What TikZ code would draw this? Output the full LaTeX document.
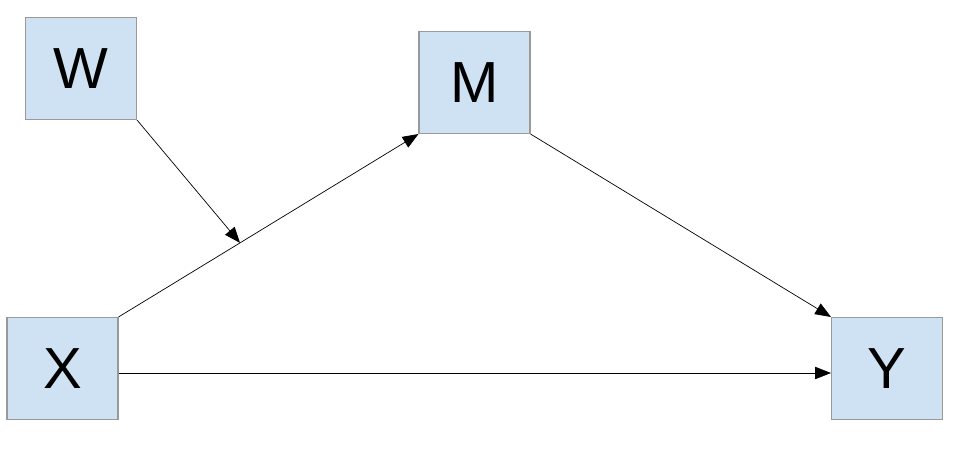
\documentclass[tikz,border=0pt]{standalone}
\usepackage{fontspec}
\setmainfont{Liberation Sans}
\usetikzlibrary{arrows.meta,positioning}
\definecolor{boxblue}{HTML}{CFE2F3}
\tikzset{
      varbox/.style={
        draw=gray!80,
        line width=0.6pt,
        fill=boxblue,
        minimum width=2.22cm,
        minimum height=2.04cm,
        inner sep=0pt,
        font=\fontsize{33}{33}\selectfont
      },
      pathline/.style={
        -{Triangle[length=9pt,width=7pt]},
        line width=0.4pt
      }
    }
\begin{document}
\begin{tikzpicture}[x=0.02cm,y=-0.02cm]
    \useasboundingbox (0,0) rectangle (958,450);
    \node[varbox] (w) at (81,68.5) {W};
    \node[varbox] (m) at (474.5,82.5) {M};
    \node[varbox] (x) at (62.5,368.5) {X};
    \node[varbox] (y) at (887,368.5) {Y};
    \draw[pathline] (x.north east) -- coordinate[pos=0.405] (mod) (m.south west);
    \draw[pathline] (m.south east) -- (y.north west);
    \draw[pathline] ([yshift=-0.09cm]x.east) -- ([yshift=-0.09cm]y.west);
    \draw[pathline] (w.south east) -- (mod);
    \end{tikzpicture}
\end{document}
